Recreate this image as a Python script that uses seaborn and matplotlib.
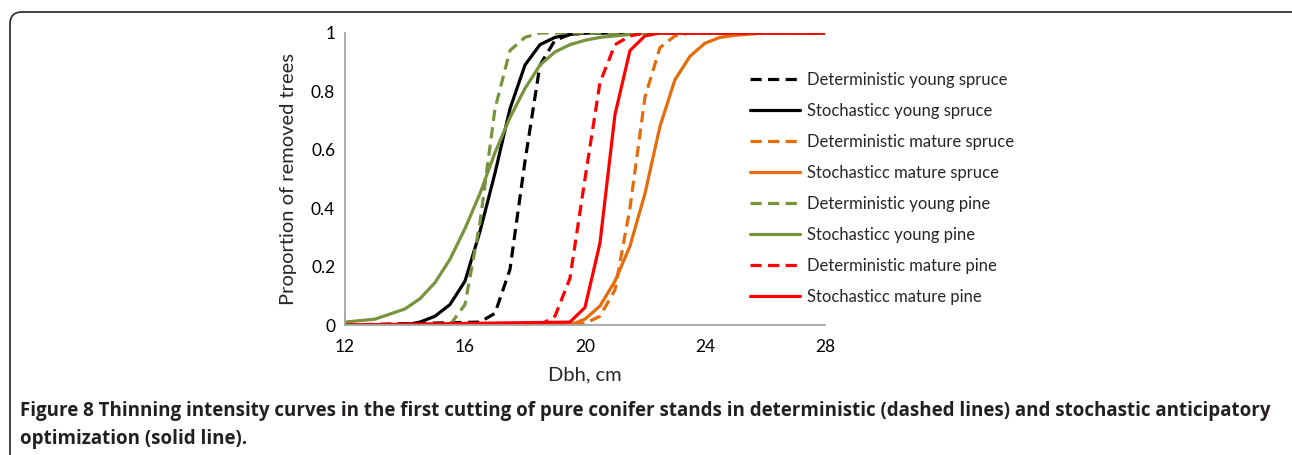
import numpy as np
import pandas as pd
import matplotlib
matplotlib.use("Agg")
import matplotlib.pyplot as plt
from matplotlib.patches import FancyBboxPatch
import seaborn as sns

# values (Dbh in cm, proportion of removed trees)
young_spruce_det_x = [12, 16.5, 17, 17.5, 18, 18.5, 19, 19.5, 20, 28]
young_spruce_det_y = [0, 0.01, 0.04, 0.19, 0.56, 0.89, 0.975, 0.995, 1, 1]

young_spruce_sto_x = [12, 14, 14.5, 15, 15.5, 16, 16.5, 17, 17.5, 18, 18.5, 19, 19.5, 20, 28]
young_spruce_sto_y = [0, 0, 0.01, 0.03, 0.07, 0.15, 0.32, 0.52, 0.74, 0.89, 0.96, 0.985, 0.995, 1, 1]

mature_spruce_det_x = [12, 20, 20.5, 21, 21.5, 22, 22.5, 23, 23.5, 28]
mature_spruce_det_y = [0, 0.005, 0.03, 0.12, 0.40, 0.78, 0.95, 0.99, 1, 1]

mature_spruce_sto_x = [12, 19.5, 20, 20.5, 21, 21.5, 22, 22.5, 23, 23.5, 24, 24.5, 25, 25.5, 26, 28]
mature_spruce_sto_y = [0, 0, 0.02, 0.065, 0.15, 0.27, 0.45, 0.68, 0.84, 0.92, 0.965, 0.985, 0.992, 0.996, 1, 1]

young_pine_det_x = [12, 15.5, 16, 16.5, 17, 17.5, 18, 18.5, 28]
young_pine_det_y = [0, 0, 0.07, 0.35, 0.74, 0.94, 0.985, 1, 1]

young_pine_sto_x = [12, 13, 14, 14.5, 15, 15.5, 16, 16.5, 17, 17.5, 18, 18.5, 19, 19.5, 20, 20.5, 21, 22, 28]
young_pine_sto_y = [0.01, 0.02, 0.055, 0.09, 0.145, 0.225, 0.33, 0.45, 0.59, 0.71, 0.81, 0.89, 0.935, 0.96, 0.975, 0.985, 0.99, 1, 1]

mature_pine_det_x = [12, 18.5, 19, 19.5, 20, 20.5, 21, 21.5, 22, 28]
mature_pine_det_y = [0, 0, 0.03, 0.16, 0.50, 0.83, 0.96, 0.99, 1, 1]

mature_pine_sto_x = [12, 19.5, 20, 20.5, 21, 21.5, 22, 22.5, 28]
mature_pine_sto_y = [0, 0.01, 0.06, 0.28, 0.72, 0.94, 0.99, 1, 1]

labels = [
    "Deterministic young spruce", "Stochasticc young spruce",
    "Deterministic mature spruce", "Stochasticc mature spruce",
    "Deterministic young pine", "Stochasticc young pine",
    "Deterministic mature pine", "Stochasticc mature pine",
]
series = [
    (young_spruce_det_x, young_spruce_det_y), (young_spruce_sto_x, young_spruce_sto_y),
    (mature_spruce_det_x, mature_spruce_det_y), (mature_spruce_sto_x, mature_spruce_sto_y),
    (young_pine_det_x, young_pine_det_y), (young_pine_sto_x, young_pine_sto_y),
    (mature_pine_det_x, mature_pine_det_y), (mature_pine_sto_x, mature_pine_sto_y),
]
x_ticks = [12, 16, 20, 24, 28]
y_ticks = [0, 0.2, 0.4, 0.6, 0.8, 1]

frames = []
for name, (xs, ys) in zip(labels, series):
    frames.append(pd.DataFrame({"dbh": xs, "prop": ys, "series": name}))
df = pd.concat(frames, ignore_index=True)

colors = ["#000000", "#000000", "#E46C0A", "#E46C0A",
          "#77933C", "#77933C", "#FF0000", "#FF0000"]
palette = dict(zip(labels, colors))
dashes = {lab: ((3.5, 2) if lab.startswith("Det") else "") for lab in labels}

sns.set_style("white")
plt.rcParams["font.family"] = ["Lato", "DejaVu Sans"]

fig = plt.figure(figsize=(12.92, 4.55), dpi=100)
ax = fig.add_axes([0.267, 0.2857, 0.3715, 0.6418])

sns.lineplot(data=df, x="dbh", y="prop", hue="series", style="series",
             hue_order=labels, style_order=labels, palette=palette,
             dashes=dashes, linewidth=2.3, sort=False, ax=ax)

ax.set_xlim(12, 28)
ax.set_ylim(0, 1)
ax.set_xticks(x_ticks)
ax.set_xticklabels([str(t) for t in x_ticks])
ax.set_yticks(y_ticks)
ax.set_yticklabels(["0", "0.2", "0.4", "0.6", "0.8", "1"])
ax.tick_params(direction="in", length=6, width=1, color="#a6a6a6",
               labelsize=12.5, labelcolor="#000000", pad=7)
ax.tick_params(axis="x", pad=10)
for side in ["top", "right"]:
    ax.spines[side].set_visible(False)
for side in ["left", "bottom"]:
    ax.spines[side].set_color("#a6a6a6")
    ax.spines[side].set_linewidth(1.3)
ax.set_xlabel("Dbh, cm", fontsize=14.5, labelpad=8)
ax.set_ylabel("Proportion of removed trees", fontsize=14.5, labelpad=10)

ax.legend(loc="upper left", bbox_to_anchor=(0.844, 0.868), frameon=False,
          fontsize=12, handlelength=3.0, handletextpad=0.4,
          labelspacing=0.9, borderpad=0, borderaxespad=0)

# rounded frame around the figure, open at the bottom and right
frame = FancyBboxPatch((10, -40), 1300, 455 - 12 + 40,
                       boxstyle="round,pad=0,rounding_size=12",
                       transform=None, fill=False, edgecolor="#333333",
                       linewidth=1.3)
fig.add_artist(frame)

fig.text(20 / 1292, 1 - 411 / 455,
         "Figure 8 Thinning intensity curves in the first cutting of pure conifer stands "
         "in deterministic (dashed lines) and stochastic anticipatory",
         fontsize=13.5, fontweight="bold", family=["Open Sans", "DejaVu Sans"],
         color="#231f20", va="center", ha="left")
fig.text(20 / 1292, 1 - 439 / 455, "optimization (solid line).",
         fontsize=13.5, fontweight="bold", family=["Open Sans", "DejaVu Sans"],
         color="#231f20", va="center", ha="left")

fig.savefig("out.png", dpi=100)
